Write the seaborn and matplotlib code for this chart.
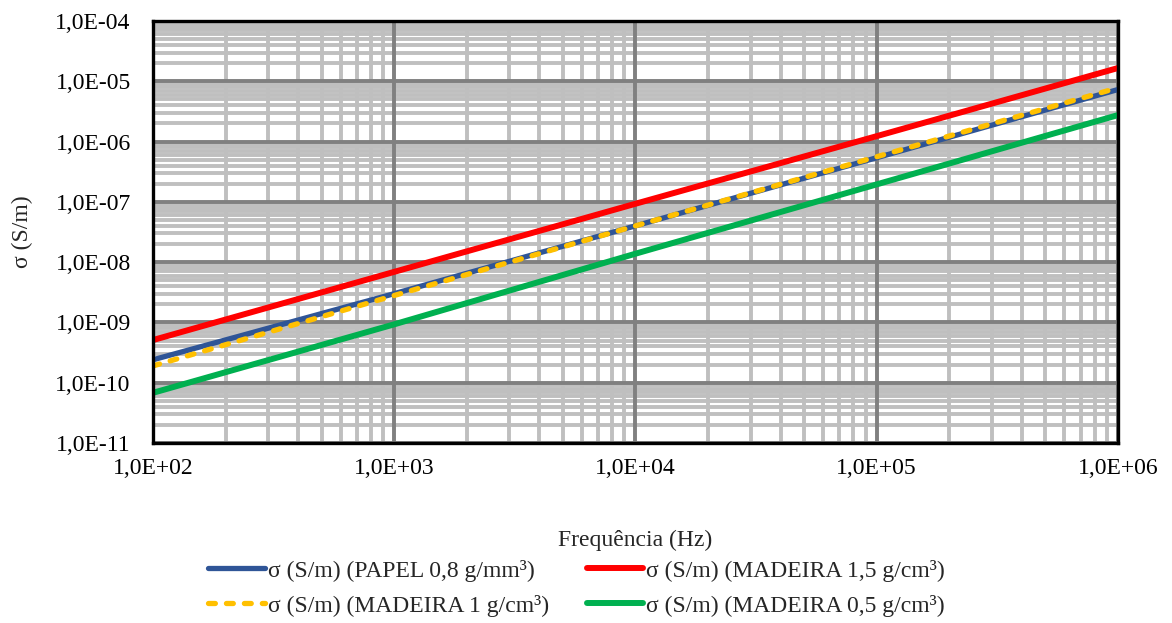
import matplotlib
matplotlib.use("Agg")
import matplotlib.pyplot as plt
import matplotlib.ticker as mticker
import numpy as np
import pandas as pd
import seaborn as sns

freq = [1e2, 1e3, 1e4, 1e5, 1e6]
papel_08 = [2.4e-10, 3.0e-9, 4.0e-8, 5.4e-7, 7.3e-6]
madeira_15 = [5.1e-10, 6.9e-9, 9.3e-8, 1.23e-6, 1.66e-5]
madeira_1 = [1.9e-10, 2.8e-9, 4.0e-8, 5.6e-7, 7.8e-6]
madeira_05 = [6.8e-11, 9.3e-10, 1.38e-8, 1.95e-7, 2.75e-6]

labels = [
    "σ (S/m) (PAPEL 0,8 g/mm³)",
    "σ (S/m) (MADEIRA 1,5 g/cm³)",
    "σ (S/m) (MADEIRA 1 g/cm³)",
    "σ (S/m) (MADEIRA 0,5 g/cm³)",
]
series = [papel_08, madeira_15, madeira_1, madeira_05]
colors = ["#2F5597", "#FF0000", "#FFC000", "#00B050"]

FS = 17

sns.set_theme(style="white")
plt.rcParams["font.family"] = ["Liberation Serif", "DejaVu Serif"]

fig = plt.figure(figsize=(11.72, 6.23), dpi=100)
ax = fig.add_axes([0.1305, 0.2889, 0.8234, 0.6774])

handles = {}
for lab, vals, col in zip(labels, series, colors):
    df = pd.DataFrame({"f": freq, "s": vals})
    sns.lineplot(data=df, x="f", y="s", color=col, lw=4.3, ax=ax, label=lab)
    line = ax.get_lines()[-1]
    if "MADEIRA 1 g" in lab:
        line.set_linewidth(3.8)
        line.set_dash_capstyle("round")
        line.set_dashes((1.3, 2.1))
        line.set_zorder(5)
    elif "PAPEL" in lab:
        line.set_zorder(4)
        line.set_linewidth(3.8)
    else:
        line.set_zorder(4)
    handles[lab] = line

ax.set_xscale("log")
ax.set_yscale("log")
ax.set_xlim(1e2, 1e6)
ax.set_ylim(1e-11, 1e-4)

ax.xaxis.set_major_locator(mticker.LogLocator(base=10, numticks=20))
ax.yaxis.set_major_locator(mticker.LogLocator(base=10, numticks=20))
ax.xaxis.set_minor_locator(mticker.LogLocator(base=10, subs=np.arange(2, 10), numticks=50))
ax.yaxis.set_minor_locator(mticker.LogLocator(base=10, subs=np.arange(2, 10), numticks=50))


def fmt(v, pos):
    if v <= 0:
        return ""
    e = int(np.floor(np.log10(v) + 1e-9))
    m = v / 10 ** e
    return f"{m:.1f}".replace(".", ",") + f"E{e:+03d}"


ax.xaxis.set_major_formatter(mticker.FuncFormatter(fmt))
ax.yaxis.set_major_formatter(mticker.FuncFormatter(fmt))
ax.xaxis.set_minor_formatter(mticker.NullFormatter())
ax.yaxis.set_minor_formatter(mticker.NullFormatter())

# minor grid behind, major grid drawn above it
ax.set_axisbelow(True)
ax.grid(which="minor", color="#BFBFBF", lw=2.8)
ax.grid(which="major", visible=False)
for xv in ax.get_xticks():
    if 1e2 <= xv <= 1e6:
        ax.axvline(xv, color="#808080", lw=2.8, zorder=1.5)
for yv in ax.get_yticks():
    if 1e-11 <= yv <= 1e-4:
        ax.axhline(yv, color="#808080", lw=2.8, zorder=1.5)
ax.set_xlim(1e2, 1e6)
ax.set_ylim(1e-11, 1e-4)

ax.tick_params(which="both", length=0, labelsize=FS, colors="black")
ax.tick_params(axis="x", pad=11)
ax.tick_params(axis="y", pad=16)

for s in ax.spines.values():
    s.set_color("black")
    s.set_linewidth(2.4)
    s.set_zorder(6)

ax.set_xlabel("Frequência (Hz)", fontsize=FS)
ax.set_ylabel("σ (S/m)", fontsize=FS)
ax.xaxis.set_label_coords(0.5, -0.205)
ax.yaxis.set_label_coords(-0.124, 0.5)

if ax.get_legend() is not None:
    ax.get_legend().remove()

order = [labels[0], labels[2], labels[1], labels[3]]
fig.legend([handles[l] for l in order], order, loc="center",
           bbox_to_anchor=(0.492, 0.056), ncol=2, frameon=False,
           fontsize=FS, handlelength=2.4, handletextpad=0.13,
           columnspacing=1.6, labelspacing=0.55)

fig.savefig("out.png", dpi=100)
